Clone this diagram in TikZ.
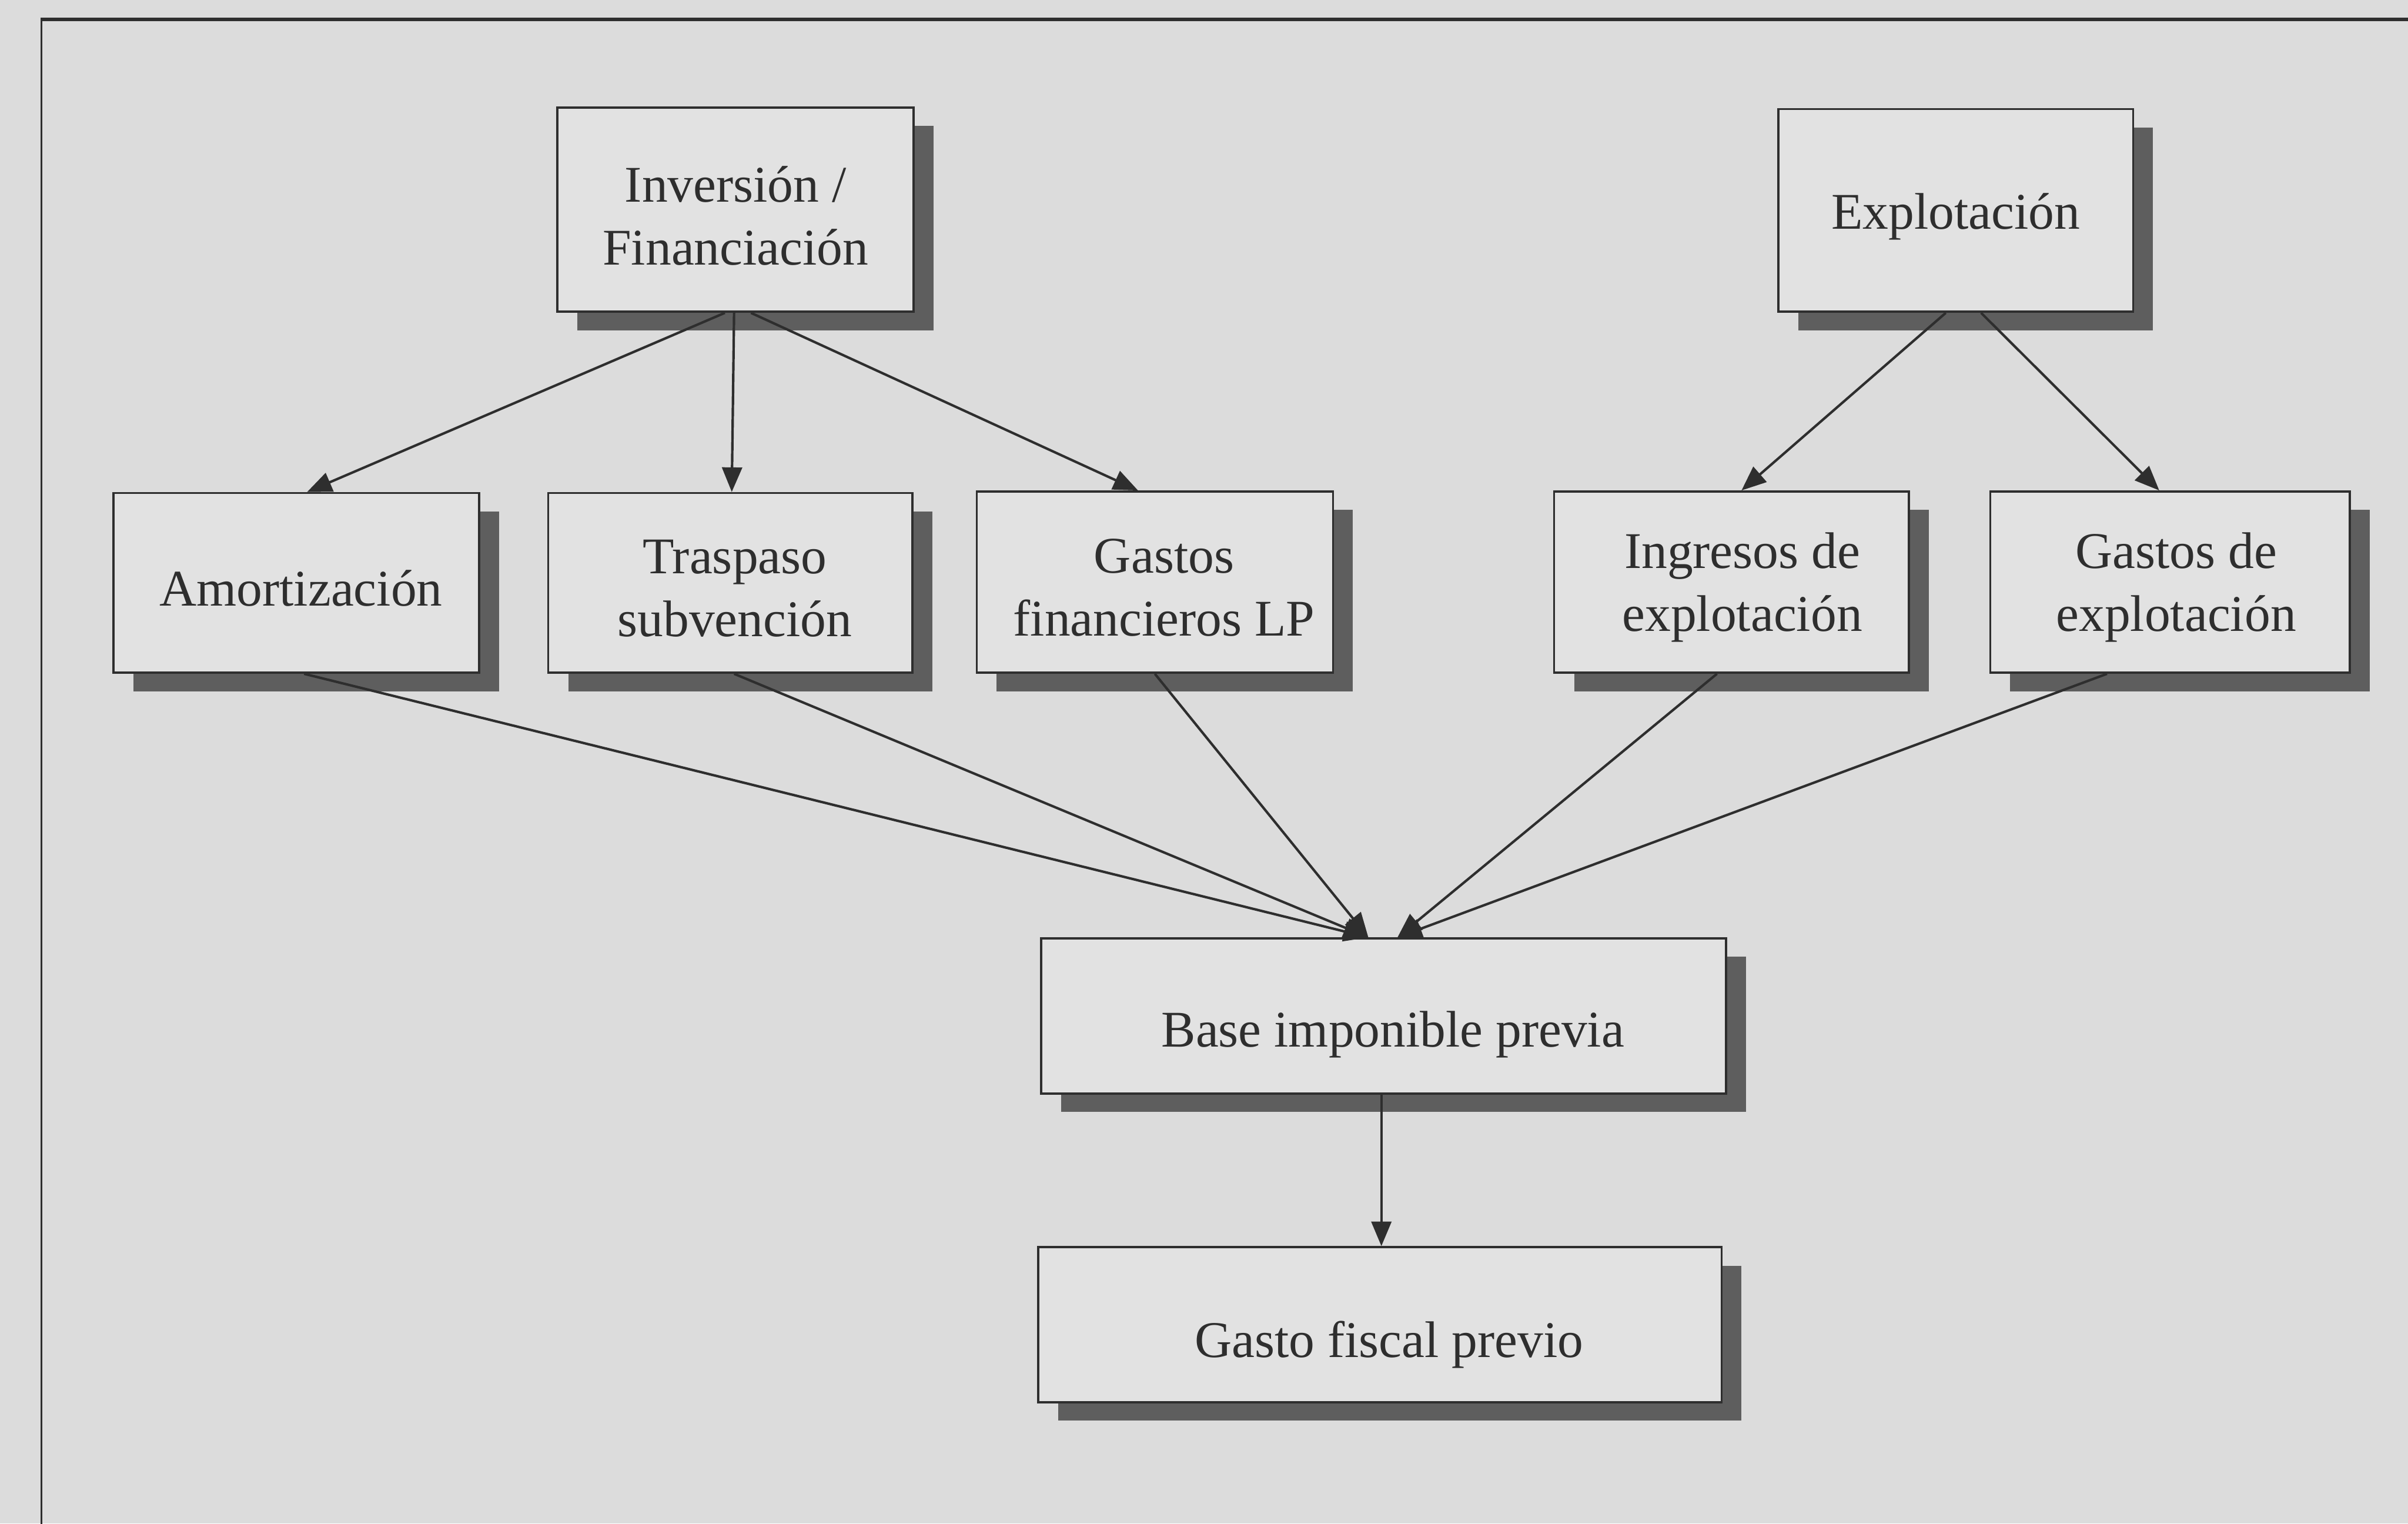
\documentclass[tikz,border=0pt]{standalone}
\usepackage{fontspec}
\setmainfont{Liberation Serif}
\usetikzlibrary{shadows,arrows.meta,calc}

\definecolor{paper}{HTML}{DCDCDC}
\definecolor{boxfill}{HTML}{E2E2E2}
\definecolor{ink}{HTML}{2E2E2E}
\definecolor{shade}{HTML}{5E5E5E}

\tikzset{
  flowbox/.style={
    draw=ink, line width=1.4pt, fill=boxfill,
    inner sep=0pt,
    drop shadow={shadow xshift=13pt, shadow yshift=-12pt, fill=shade, opacity=1}
  },
  boxtext/.style={
    text=ink, inner sep=0pt, align=center,
    font=\fontsize{33.5}{41}\selectfont
  },
  conn/.style={
    draw=ink, line width=1.6pt,
    -{Triangle[length=16pt,width=13pt]}
  }
}

\begin{document}
\begin{tikzpicture}[x=1pt,y=-1pt]
  % page and frame
  \fill[paper] (0,0) rectangle (1568,992);
  \useasboundingbox (0,0) rectangle (1568,992);
  \draw[ink, line width=2.4pt] (27,12.5) -- (1570,12.5);
  \draw[ink, line width=1pt] (27,11.5) -- (27,995);

  % top level
  \node[flowbox, minimum width=232pt, minimum height=133pt] (inv) at (479,136.5) {};
  \node[flowbox, minimum width=231pt, minimum height=132pt] (exp) at (1273.5,137) {};

  % middle row
  \node[flowbox, minimum width=238pt, minimum height=117pt] (amo) at (193,379.5) {};
  \node[flowbox, minimum width=237pt, minimum height=117pt] (tra) at (475.5,379.5) {};
  \node[flowbox, minimum width=232pt, minimum height=118pt] (gfi) at (752,379) {};
  \node[flowbox, minimum width=231pt, minimum height=118pt] (ing) at (1127.5,379) {};
  \node[flowbox, minimum width=234pt, minimum height=118pt] (gex) at (1413,379) {};

  % bottom
  \node[flowbox, minimum width=446pt, minimum height=101pt] (bip) at (901,661.5) {};
  \node[flowbox, minimum width=445pt, minimum height=101pt] (gfp) at (898.5,862.5) {};

  % box labels
  \node[boxtext] (inv-t) at ($(inv.center)+(0,4)$) {Inversión /\\Financiación};
  \node[boxtext] (exp-t) at ($(exp.center)+(0,4)$) {Explotación};
  \node[boxtext] (amo-t) at ($(amo.center)+(3,3.5)$) {Amortización};
  \node[boxtext] (tra-t) at ($(tra.center)+(3,3.5)$) {Traspaso\\subvención};
  \node[boxtext] (gfi-t) at ($(gfi.center)+(6,3.5)$) {Gastos\\financieros LP};
  \node[boxtext] (ing-t) at ($(ing.center)+(7,3.5)$) {Ingresos de\\explotación};
  \node[boxtext] (gex-t) at ($(gex.center)+(4,3.5)$) {Gastos de\\explotación};
  \node[boxtext] (bip-t) at ($(bip.center)+(6,12)$) {Base imponible previa};
  \node[boxtext] (gfp-t) at ($(gfp.center)+(6,13)$) {Gasto fiscal previo};

  % connectors
  \draw[conn] ($(inv.south)+(-7,0)$) -- ($(amo.north)+(7,0)$);
  \draw[conn] ($(inv.south)+(-1,0)$) -- ($(tra.north)+(1,0)$);
  \draw[conn] ($(inv.south)+(10,0)$) -- ($(gfi.north)+(-11,0)$);
  \draw[conn] ($(exp.south)+(-6.5,0)$) -- ($(ing.north)+(6.5,0)$);
  \draw[conn] ($(exp.south)+(16.5,0)$) -- ($(gex.north)+(-7,0)$);

  \draw[conn] ($(amo.south)+(5,0)$) -- ($(bip.north)+(-10,0)$);
  \draw[conn] ($(tra.south)+(2.5,0)$) -- ($(bip.north)+(-10,0)$);
  \draw[conn] (gfi.south) -- ($(bip.north)+(-10,0)$);
  \draw[conn] ($(ing.south)+(-9.5,0)$) -- ($(bip.north)+(9,0)$);
  \draw[conn] ($(gex.south)+(-41,0)$) -- ($(bip.north)+(9,0)$);

  \draw[conn] ($(bip.south -| gfp.north)+(1,0)$) -- ($(gfp.north)+(1,0)$);
\end{tikzpicture}
\end{document}
